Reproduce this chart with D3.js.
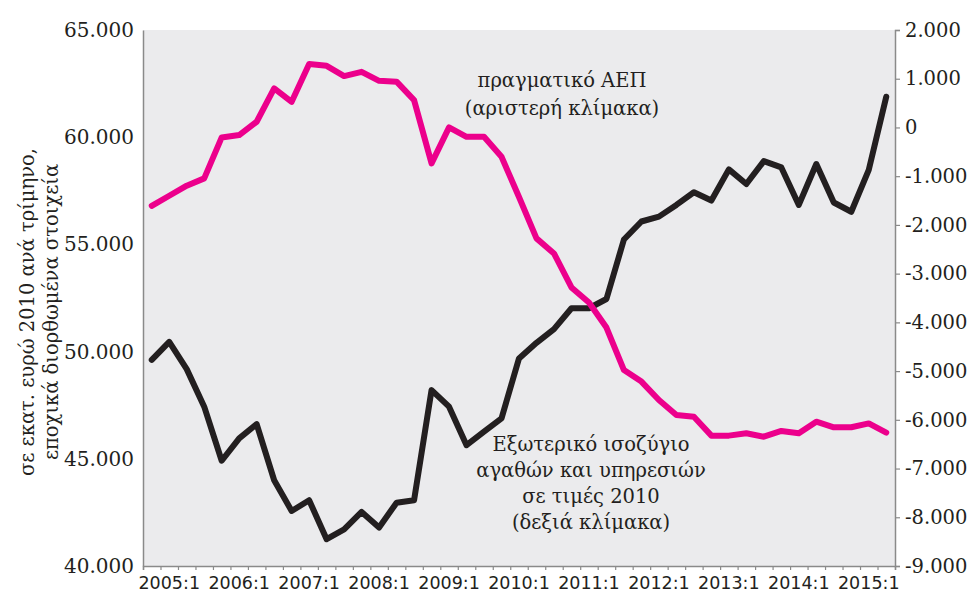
<!DOCTYPE html>
<html>
<head>
<meta charset="utf-8">
<script src="https://cdn.jsdelivr.net/npm/d3@7"></script>
<style>
  body { margin: 0; background: #fff; }
  svg text { fill: #231f20; }
</style>
</head>
<body>
<div id="chart"></div>
<script>
// quarters, 2004:4 .. 2015:2
const quarters = [
  "2004:4",
  "2005:1", "2005:2", "2005:3", "2005:4",
  "2006:1", "2006:2", "2006:3", "2006:4",
  "2007:1", "2007:2", "2007:3", "2007:4",
  "2008:1", "2008:2", "2008:3", "2008:4",
  "2009:1", "2009:2", "2009:3", "2009:4",
  "2010:1", "2010:2", "2010:3", "2010:4",
  "2011:1", "2011:2", "2011:3", "2011:4",
  "2012:1", "2012:2", "2012:3", "2012:4",
  "2013:1", "2013:2", "2013:3", "2013:4",
  "2014:1", "2014:2", "2014:3", "2014:4",
  "2015:1", "2015:2"
];

// real GDP, left scale
const gdp = [
  56800, 57270, 57740, 58080, 59990, 60100, 60720, 62280, 61650, 63410,
  63330, 62850, 63050, 62630, 62590, 61730, 58780, 60460, 60020, 60020,
  59090, 57210, 55280, 54580, 52990, 52290, 51120, 49140, 48600, 47740,
  47040, 46960, 46080, 46080, 46190, 46030, 46300, 46190, 46730, 46470,
  46470, 46650, 46220
];

// external balance of goods & services, right scale
const balance = [
  -4770, -4400, -4960, -5730, -6840, -6380, -6090, -7240, -7870, -7650,
  -8450, -8250, -7890, -8210, -7700, -7650, -5390, -5730, -6520, -6240,
  -5970, -4740, -4420, -4140, -3710, -3710, -3520, -2300, -1930, -1830,
  -1590, -1330, -1500, -860, -1160, -690, -820, -1590, -750, -1540,
  -1730, -870, 630
];

const xLabels = ["2005:1", "2006:1", "2007:1", "2008:1", "2009:1", "2010:1",
                 "2011:1", "2012:1", "2013:1", "2014:1", "2015:1"];
const leftTicks = [40000, 45000, 50000, 55000, 60000, 65000];
const rightTicks = [-9000, -8000, -7000, -6000, -5000, -4000, -3000, -2000, -1000, 0, 1000, 2000];

const gdpNote = ["πραγματικό ΑΕΠ", "(αριστερή κλίμακα)"];
const balNote = ["Εξωτερικό ισοζύγιο", "αγαθών και υπηρεσιών", "σε τιμές 2010", "(δεξιά κλίμακα)"];
const yTitle = ["σε εκατ. ευρώ 2010 ανά τρίμηνο,", "εποχικά διορθωμένα στοιχεία"];

const margin = { top: 30, right: 77, bottom: 30, left: 143 };
const width = 972 - margin.left - margin.right;
const height = 596 - margin.top - margin.bottom;

const grFormat = d3.formatLocale({
  decimal: ",", thousands: ".", grouping: [3], currency: ["", " €"], minus: "-"
}).format(",d");

const svg = d3.select("#chart").append("svg")
  .attr("width", 972)
  .attr("height", 596);

const g = svg.append("g")
  .attr("transform", `translate(${margin.left}, ${margin.top})`);

// scales
const x = d3.scaleBand().domain(quarters).range([0, width]);
const xEdge = d3.scaleLinear().domain([0, quarters.length]).range([0, width]);
const yLeft = d3.scaleLinear().domain([40000, 65000]).range([height, 0]);
const yRight = d3.scaleLinear().domain([-9000, 2000]).range([height, 0]);

// plot background
g.append("rect")
  .attr("width", width)
  .attr("height", height)
  .attr("fill", "#ebebed");

const serif = "'DejaVu Serif', serif";

// left axis
const leftAxis = g.append("g")
  .call(d3.axisLeft(yLeft).tickValues(leftTicks).tickSize(0).tickPadding(9).tickFormat(grFormat));
leftAxis.select(".domain").attr("stroke", "#8a8a8a").attr("stroke-width", 1.5);
leftAxis.selectAll("text").attr("font-family", serif).attr("font-size", 20).attr("fill", "#231f20");

// right axis
const rightAxis = g.append("g")
  .attr("transform", `translate(${width}, 0)`)
  .call(d3.axisRight(yRight).tickValues(rightTicks).tickSize(5).tickPadding(5).tickFormat(grFormat));
rightAxis.select(".domain").attr("stroke", "#8a8a8a").attr("stroke-width", 1.5);
rightAxis.selectAll(".tick line").attr("stroke", "#8a8a8a").attr("stroke-width", 1.2);
rightAxis.selectAll("text").attr("font-family", serif).attr("font-size", 19.5).attr("fill", "#231f20");

// bottom axis: ticks at quarter boundaries
const edgeAxis = g.append("g")
  .attr("transform", `translate(0, ${height})`)
  .call(d3.axisBottom(xEdge).ticks(quarters.length).tickSizeOuter(0).tickSize(4).tickFormat(""));
edgeAxis.select(".domain").attr("stroke", "#8a8a8a").attr("stroke-width", 1.5);
edgeAxis.selectAll(".tick line").attr("stroke", "#8a8a8a").attr("stroke-width", 1.2);

// bottom axis: labels
const labelAxis = g.append("g")
  .attr("transform", `translate(0, ${height})`)
  .call(d3.axisBottom(x).tickValues(xLabels).tickSize(0).tickPadding(11));
labelAxis.select(".domain").remove();
labelAxis.selectAll("text")
  .attr("font-family", "'DejaVu Sans', sans-serif")
  .attr("font-size", 17.5)
  .attr("fill", "#231f20");

// lines
const lineLeft = d3.line()
  .x((d, i) => x(quarters[i]) + x.bandwidth() / 2)
  .y(d => yLeft(d));
const lineRight = d3.line()
  .x((d, i) => x(quarters[i]) + x.bandwidth() / 2)
  .y(d => yRight(d));

g.append("path")
  .datum(balance)
  .attr("fill", "none")
  .attr("stroke", "#231f20")
  .attr("stroke-width", 6)
  .attr("stroke-linejoin", "round")
  .attr("stroke-linecap", "round")
  .attr("d", lineRight);

g.append("path")
  .datum(gdp)
  .attr("fill", "none")
  .attr("stroke", "#ec008c")
  .attr("stroke-width", 6)
  .attr("stroke-linejoin", "round")
  .attr("stroke-linecap", "round")
  .attr("d", lineLeft);

// annotations
svg.append("text")
  .attr("text-anchor", "middle")
  .attr("font-family", serif)
  .attr("font-size", 19.5)
  .selectAll("tspan")
  .data(gdpNote)
  .join("tspan")
  .attr("x", 562)
  .attr("y", (d, i) => 87 + i * 28)
  .text(d => d);

svg.append("text")
  .attr("text-anchor", "middle")
  .attr("font-family", serif)
  .attr("font-size", 19.5)
  .selectAll("tspan")
  .data(balNote)
  .join("tspan")
  .attr("x", 591)
  .attr("y", (d, i) => 451 + i * 26)
  .text(d => d);

// y axis title
svg.append("text")
  .attr("transform", "translate(0, 312) rotate(-90)")
  .attr("text-anchor", "middle")
  .attr("font-family", serif)
  .attr("font-size", 19.5)
  .selectAll("tspan")
  .data(yTitle)
  .join("tspan")
  .attr("x", 0)
  .attr("y", (d, i) => 34 + i * 24)
  .text(d => d);
</script>
</body>
</html>
